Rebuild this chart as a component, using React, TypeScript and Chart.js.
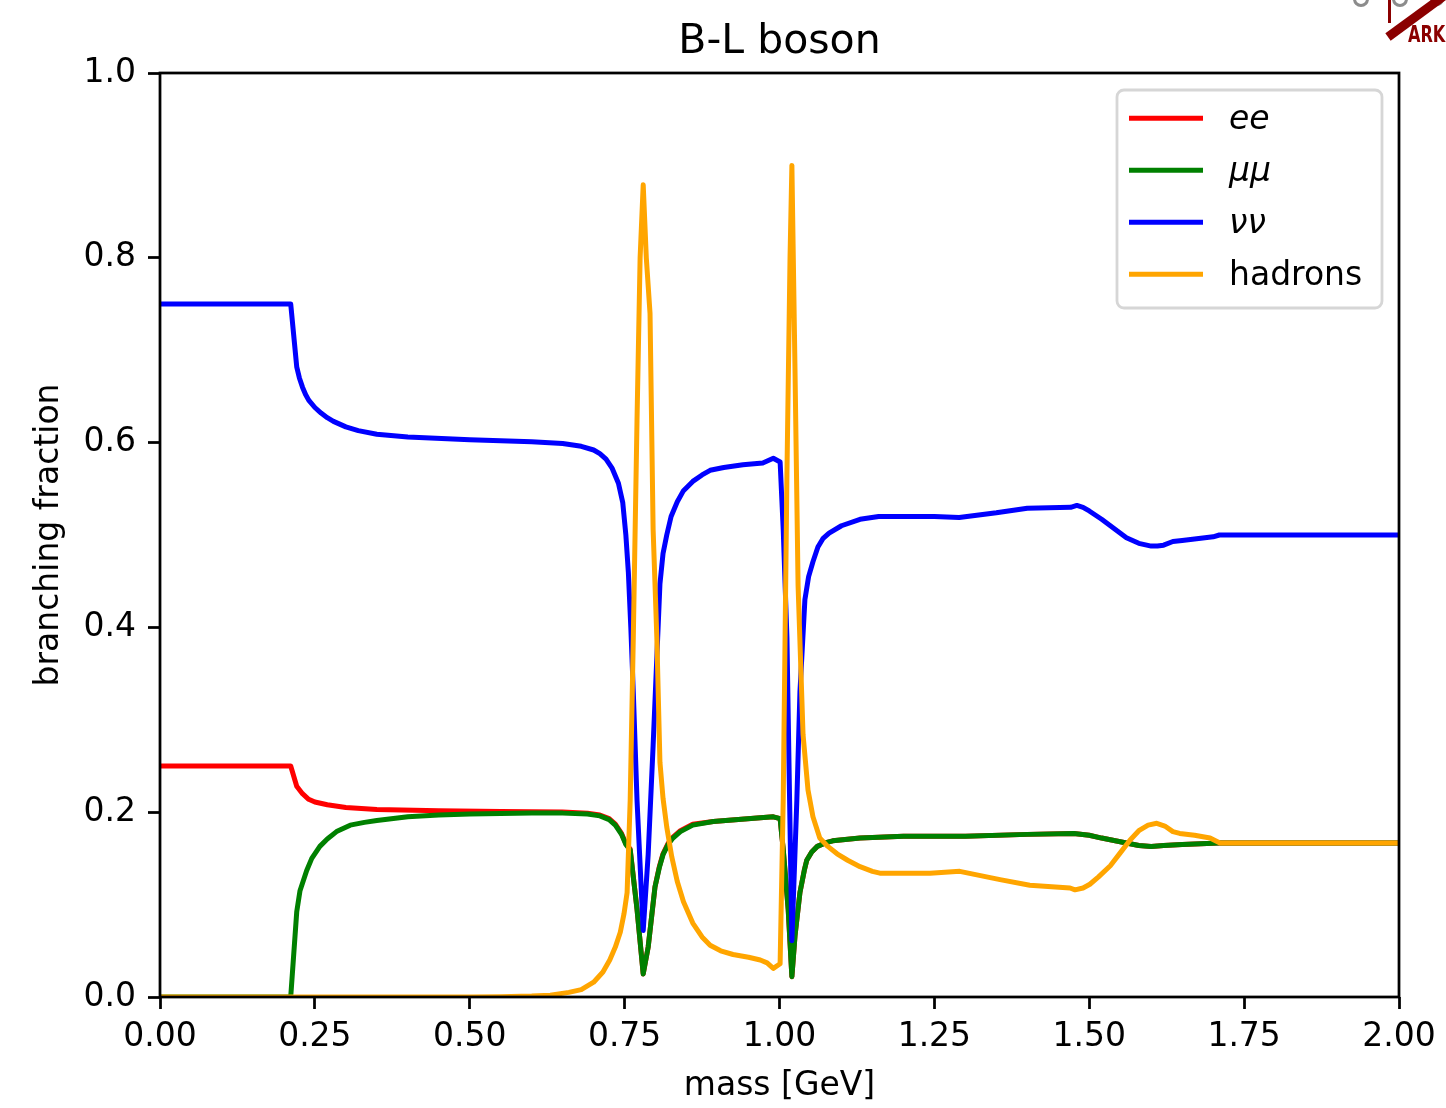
import React, { useEffect, useRef } from "react";
import { Chart, registerables } from "chart.js";

Chart.register(...registerables);

// ---------- text ----------
const TITLE = "B-L boson";
const X_LABEL = "mass [GeV]";
const Y_LABEL = "branching fraction";
const SERIES_LABELS = ["ee", "μμ", "νν", "hadrons"];
const SERIES_ITALIC = [true, true, true, false];
const SERIES_COLORS = ["#ff0000", "#008000", "#0000ff", "#ffa500"];

// ---------- axes ----------
const X_MIN = 0;
const X_MAX = 2;
const X_STEP = 0.25;
const Y_MIN = 0;
const Y_MAX = 1;
const Y_STEP = 0.2;

// ---------- data: ee ----------
const massEE = [
  0, 0.211, 0.2207, 0.23, 0.24, 0.25, 0.27, 0.3, 0.35, 0.45, 0.55, 0.65, 0.69,
  0.71, 0.725, 0.735, 0.745, 0.752, 0.759, 0.77, 0.78, 0.788, 0.799, 0.806,
  0.812, 0.82, 0.828, 0.84, 0.86, 0.893, 0.969, 0.99, 1.001, 1.006, 1.014, 1.02,
  1.025, 1.033, 1.04, 1.044, 1.052, 1.061, 1.075, 1.086, 1.13, 1.2, 1.3, 1.4,
  1.475, 1.5, 1.52, 1.55, 1.58, 1.6, 1.62, 1.65, 1.71, 2.0,
];
const bfEE = [
  0.25, 0.25, 0.228, 0.22, 0.214, 0.211, 0.208, 0.205, 0.203, 0.2015, 0.2008,
  0.2002, 0.199, 0.197, 0.193, 0.187, 0.177, 0.166, 0.16, 0.095, 0.025, 0.054,
  0.119, 0.141, 0.155, 0.166, 0.173, 0.18, 0.187, 0.19, 0.194, 0.195, 0.193,
  0.16, 0.095, 0.022, 0.066, 0.113, 0.137, 0.148, 0.157, 0.163, 0.167, 0.169,
  0.172, 0.174, 0.174, 0.176, 0.177, 0.175, 0.172, 0.168, 0.164, 0.163, 0.164,
  0.165, 0.1667, 0.1667,
];

// ---------- data: mu mu ----------
const massMuMu = [
  0, 0.211, 0.2207, 0.226, 0.2368, 0.245, 0.258, 0.27, 0.285, 0.307, 0.33, 0.35,
  0.4, 0.45, 0.5, 0.6, 0.65, 0.69, 0.71, 0.725, 0.735, 0.745, 0.752, 0.759, 0.77,
  0.78, 0.788, 0.799, 0.806, 0.812, 0.82, 0.828, 0.84, 0.86, 0.893, 0.969, 0.99,
  1.001, 1.006, 1.014, 1.02, 1.025, 1.033, 1.04, 1.044, 1.052, 1.061, 1.075,
  1.086, 1.13, 1.2, 1.3, 1.4, 1.475, 1.5, 1.52, 1.55, 1.58, 1.6, 1.62, 1.65,
  1.71, 2.0,
];
const bfMuMu = [
  0, 0, 0.092, 0.115, 0.137, 0.15, 0.163, 0.171, 0.179, 0.186, 0.189, 0.191,
  0.195, 0.197, 0.198, 0.199, 0.199, 0.198, 0.196, 0.192, 0.186, 0.176, 0.165,
  0.159, 0.095, 0.025, 0.054, 0.119, 0.14, 0.154, 0.165, 0.172, 0.179, 0.186,
  0.19, 0.194, 0.195, 0.193, 0.16, 0.095, 0.022, 0.066, 0.113, 0.137, 0.148,
  0.157, 0.163, 0.167, 0.169, 0.172, 0.174, 0.174, 0.176, 0.177, 0.175, 0.172,
  0.168, 0.164, 0.163, 0.164, 0.165, 0.1667, 0.1667,
];

// ---------- data: nu nu ----------
const massNuNu = [
  0, 0.211, 0.2207, 0.225, 0.23, 0.235, 0.24, 0.25, 0.26, 0.27, 0.28, 0.3, 0.32,
  0.35, 0.4, 0.5, 0.6, 0.65, 0.68, 0.7, 0.71, 0.72, 0.73, 0.74, 0.747, 0.752,
  0.756, 0.76, 0.764, 0.77, 0.78, 0.788, 0.796, 0.807, 0.812, 0.818, 0.825,
  0.835, 0.845, 0.86, 0.875, 0.888, 0.91, 0.941, 0.973, 0.99, 1.001, 1.006,
  1.012, 1.02, 1.028, 1.033, 1.041, 1.047, 1.054, 1.062, 1.07, 1.08, 1.1, 1.13,
  1.16, 1.25, 1.29, 1.35, 1.4, 1.47, 1.48, 1.49, 1.5, 1.52, 1.54, 1.56, 1.58,
  1.6, 1.61, 1.62, 1.635, 1.65, 1.7, 1.71, 2.0,
];
const bfNuNu = [
  0.75, 0.75, 0.682, 0.67, 0.66, 0.652, 0.646, 0.638, 0.632, 0.627, 0.623, 0.617,
  0.613, 0.609, 0.606, 0.603, 0.601, 0.599, 0.596, 0.592, 0.588, 0.582, 0.572,
  0.556, 0.535, 0.5, 0.46, 0.4, 0.33, 0.213, 0.072, 0.154, 0.272, 0.447, 0.48,
  0.5, 0.52, 0.536, 0.548, 0.558, 0.565, 0.57, 0.573, 0.576, 0.578, 0.583, 0.579,
  0.506, 0.389, 0.061, 0.213, 0.33, 0.43, 0.455, 0.471, 0.487, 0.496, 0.502,
  0.51, 0.517, 0.52, 0.52, 0.519, 0.524, 0.529, 0.53, 0.532, 0.53, 0.526, 0.517,
  0.507, 0.497, 0.491, 0.488, 0.488, 0.489, 0.493, 0.494, 0.498, 0.5, 0.5,
];

// ---------- data: hadrons ----------
const massHad = [
  0, 0.5, 0.55, 0.6, 0.63, 0.66, 0.68, 0.7, 0.715, 0.726, 0.735, 0.743, 0.749,
  0.754, 0.759, 0.764, 0.77, 0.775, 0.78, 0.785, 0.791, 0.796, 0.802, 0.807,
  0.812, 0.818, 0.826, 0.835, 0.845, 0.86, 0.875, 0.888, 0.905, 0.925, 0.95,
  0.969, 0.98, 0.99, 1.001, 1.006, 1.012, 1.017, 1.02, 1.025, 1.03, 1.038,
  1.046, 1.054, 1.065, 1.078, 1.093, 1.11, 1.13, 1.15, 1.162, 1.243, 1.291,
  1.356, 1.404, 1.469, 1.477, 1.49, 1.501, 1.515, 1.534, 1.55, 1.566, 1.58,
  1.595, 1.609, 1.622, 1.635, 1.646, 1.67, 1.695, 1.711, 2.0,
];
const bfHad = [
  0, 0, 0.0003, 0.001, 0.002, 0.005, 0.008, 0.016, 0.027, 0.04, 0.054, 0.07,
  0.09, 0.113, 0.213, 0.389, 0.624, 0.8, 0.879, 0.8, 0.74, 0.506, 0.389, 0.254,
  0.215, 0.184, 0.152, 0.125, 0.103, 0.08, 0.065, 0.056, 0.05, 0.046, 0.043,
  0.04, 0.037, 0.031, 0.036, 0.213, 0.565, 0.8, 0.9, 0.68, 0.445, 0.284, 0.224,
  0.195, 0.172, 0.163, 0.155, 0.148, 0.141, 0.136, 0.134, 0.134, 0.136, 0.127,
  0.121, 0.118, 0.116, 0.118, 0.122, 0.13, 0.142, 0.156, 0.17, 0.18, 0.186,
  0.188, 0.185, 0.179, 0.177, 0.175, 0.172, 0.1667, 0.1667,
];

const SERIES_X = [massEE, massMuMu, massNuNu, massHad];
const SERIES_Y = [bfEE, bfMuMu, bfNuNu, bfHad];

const FONT = '"DejaVu Sans", "Liberation Sans", sans-serif';

function pairs(xs: number[], ys: number[]) {
  return xs.map((x, i) => ({ x, y: ys[i] }));
}

const decorPlugin = {
  id: "decor",
  afterDatasetsDraw(chart: any) {
    const { ctx, chartArea: a } = chart;
    ctx.save();
    ctx.strokeStyle = "#000";
    ctx.lineWidth = 2.75;
    ctx.strokeRect(a.left, a.top, a.right - a.left, a.bottom - a.top);
    ctx.restore();
  },
  afterDraw(chart: any) {
    const { ctx, chartArea: a } = chart;
    const cx = (a.left + a.right) / 2;
    ctx.save();
    ctx.fillStyle = "#000";
    // title
    ctx.font = `41px ${FONT}`;
    ctx.textAlign = "center";
    ctx.textBaseline = "alphabetic";
    ctx.fillText(TITLE, cx, a.top - 20);
    // x label
    ctx.font = `33px ${FONT}`;
    ctx.fillText(X_LABEL, cx, a.bottom + 98);
    // y label
    ctx.save();
    ctx.translate(a.left - 102, (a.top + a.bottom) / 2);
    ctx.rotate(-Math.PI / 2);
    ctx.fillText(Y_LABEL, 0, 0);
    ctx.restore();

    // legend
    const bx = a.right - 282;
    const by = a.top + 17;
    const bw = 265;
    const bh = 218;
    const r = 7;
    ctx.beginPath();
    ctx.moveTo(bx + r, by);
    ctx.lineTo(bx + bw - r, by);
    ctx.arcTo(bx + bw, by, bx + bw, by + r, r);
    ctx.lineTo(bx + bw, by + bh - r);
    ctx.arcTo(bx + bw, by + bh, bx + bw - r, by + bh, r);
    ctx.lineTo(bx + r, by + bh);
    ctx.arcTo(bx, by + bh, bx, by + bh - r, r);
    ctx.lineTo(bx, by + r);
    ctx.arcTo(bx, by, bx + r, by, r);
    ctx.closePath();
    ctx.fillStyle = "rgba(255,255,255,0.8)";
    ctx.fill();
    ctx.strokeStyle = "#d6d6d6";
    ctx.lineWidth = 2.8;
    ctx.stroke();

    const ds = chart.data.datasets;
    ds.forEach((d: any, i: number) => {
      const rowY = by + 28.3 + i * 52;
      ctx.beginPath();
      ctx.strokeStyle = d.borderColor;
      ctx.lineWidth = 5;
      ctx.lineCap = "butt";
      ctx.moveTo(bx + 12, rowY);
      ctx.lineTo(bx + 86, rowY);
      ctx.stroke();
      ctx.fillStyle = "#000";
      ctx.textAlign = "left";
      ctx.textBaseline = "alphabetic";
      ctx.font = `${SERIES_ITALIC[i] ? "italic " : ""}33px ${FONT}`;
      ctx.fillText(d.label, bx + 112, rowY + 11);
    });

    // logo (top-right corner, partially cut off)
    const W = chart.width;
    ctx.strokeStyle = "#8c8c8c";
    ctx.lineWidth = 3;
    [[W - 85, 6.5], [W - 46, 6.5], [W - 9, 5.5]].forEach(([x, rr]) => {
      ctx.beginPath();
      ctx.arc(x, -1, rr, 0, Math.PI);
      ctx.stroke();
    });
    ctx.fillStyle = "#8b0000";
    ctx.fillRect(W - 58, 0, 3, 23);
    ctx.strokeStyle = "#8b0000";
    ctx.lineWidth = 9;
    ctx.lineCap = "butt";
    ctx.beginPath();
    ctx.moveTo(W - 58, 37);
    ctx.lineTo(W - 2, -4);
    ctx.stroke();
    ctx.save();
    ctx.translate(W - 38, 42);
    ctx.scale(0.7, 1);
    ctx.font = `bold 23px ${FONT}`;
    ctx.fillStyle = "#8b0000";
    ctx.textAlign = "left";
    ctx.fillText("ARK", 0, 0);
    ctx.restore();

    ctx.restore();
  },
};

export default function App() {
  const canvasRef = useRef<HTMLCanvasElement | null>(null);

  useEffect(() => {
    const canvas = canvasRef.current;
    if (!canvas) return;
    const order = [3, 2, 1, 0];
    const chart = new Chart(canvas, {
      type: "line",
      data: {
        datasets: SERIES_LABELS.map((label, i) => ({
          label,
          data: pairs(SERIES_X[i], SERIES_Y[i]),
          borderColor: SERIES_COLORS[i],
          backgroundColor: SERIES_COLORS[i],
          borderWidth: 5,
          pointRadius: 0,
          pointHoverRadius: 0,
          tension: 0,
          fill: false,
          borderJoinStyle: "round",
          borderCapStyle: "butt",
          order: order[i],
        })),
      },
      options: {
        animation: false,
        responsive: false,
        devicePixelRatio: 1,
        events: [],
        layout: { padding: { left: 0, right: 47, top: 73, bottom: 0 } },
        plugins: {
          legend: { display: false },
          title: { display: false },
          tooltip: { enabled: false },
        },
        scales: {
          x: {
            type: "linear",
            min: X_MIN,
            max: X_MAX,
            border: { display: false },
            grid: {
              drawOnChartArea: false,
              drawTicks: true,
              tickLength: 12,
              tickWidth: 2.75,
              tickColor: "#000",
              color: "#000",
            },
            ticks: {
              stepSize: X_STEP,
              autoSkip: false,
              maxRotation: 0,
              padding: 9,
              color: "#000",
              font: { family: FONT, size: 33 },
              callback: (v: any) => Number(v).toFixed(2),
            },
            afterFit: (s: any) => {
              s.height = 111;
            },
          },
          y: {
            type: "linear",
            min: Y_MIN,
            max: Y_MAX,
            border: { display: false },
            grid: {
              drawOnChartArea: false,
              drawTicks: true,
              tickLength: 12,
              tickWidth: 2.75,
              tickColor: "#000",
              color: "#000",
            },
            ticks: {
              stepSize: Y_STEP,
              padding: 12,
              color: "#000",
              font: { family: FONT, size: 33 },
              callback: (v: any) => Number(v).toFixed(1),
            },
            afterFit: (s: any) => {
              s.width = 160;
            },
          },
        },
      },
      plugins: [decorPlugin],
    } as any);
    return () => chart.destroy();
  }, []);

  return (
    <div
      style={{
        position: "absolute",
        left: 0,
        top: 0,
        width: 1446,
        height: 1108,
        background: "#fff",
      }}
    >
      <canvas
        ref={canvasRef}
        width={1446}
        height={1108}
        style={{ display: "block", width: 1446, height: 1108 }}
      />
    </div>
  );
}
